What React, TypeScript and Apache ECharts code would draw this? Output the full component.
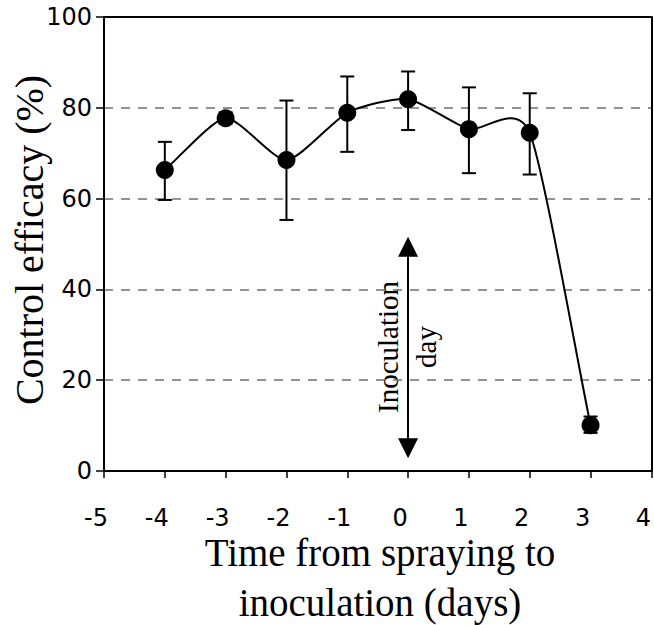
import React, { useEffect, useRef } from "react";
import * as echarts from "echarts";

// Days from spraying to inoculation
const days = [-4, -3, -2, -1, 0, 1, 2, 3];
// Control efficacy (%)
const efficacy = [66.3, 77.7, 68.5, 78.9, 81.9, 75.3, 74.5, 10.1];
const errLow = [59.7, 76.5, 55.3, 70.3, 75.1, 65.6, 65.3, 8.4];
const errHigh = [72.5, 79.0, 81.6, 86.9, 88.0, 84.5, 83.2, 12.0];

// Inoculation-day arrow (x = 0) end values
const arrowDay = 0;
const arrowTop = 49.4;
const arrowBottom = 5.0;

const xMin = -5;
const xMax = 4;
const yMin = 0;
const yMax = 100;

const yTitle = "Control efficacy (%)";
const xTitle1 = "Time from spraying to";
const xTitle2 = "inoculation (days)";
const annotation = "Inoculation\nday";

export default function App() {
  const ref = useRef<HTMLDivElement>(null);

  useEffect(() => {
    if (!ref.current) return;
    const chart = echarts.init(ref.current, null, { renderer: "svg" });
    const sans = "DejaVu Sans, Verdana, sans-serif";
    const serif = "Liberation Serif, Times New Roman, serif";

    const n = days.length;
    const errData = days.map((d, i) => [d, errLow[i], errHigh[i]]);
    const pointData = days.map((d, i) => [d, efficacy[i]]);
    const tension = 0.11;

    chart.setOption({
      animation: false,
      backgroundColor: "#ffffff",
      grid: { left: 104, right: 2, top: 17, bottom: 154, containLabel: false },
      xAxis: [
        {
          type: "value",
          min: xMin,
          max: xMax,
          interval: 1,
          axisLine: { show: true, onZero: false, lineStyle: { color: "#000", width: 2 } },
          axisTick: { show: true, inside: false, length: 7, lineStyle: { color: "#000", width: 1.5 } },
          axisLabel: {
            color: "#000",
            fontFamily: sans,
            fontSize: 24,
            margin: 35,
            padding: [0, 16, 0, 0],
          },
          splitLine: { show: false },
        },
        {
          type: "value",
          position: "top",
          min: xMin,
          max: xMax,
          interval: 1,
          axisLine: { show: true, onZero: false, lineStyle: { color: "#000", width: 2 } },
          axisTick: { show: false },
          axisLabel: { show: false },
          splitLine: { show: false },
        },
      ],
      yAxis: [
        {
          type: "value",
          min: yMin,
          max: yMax,
          interval: 20,
          axisLine: { show: true, onZero: false, lineStyle: { color: "#000", width: 2 } },
          axisTick: { show: true, inside: false, length: 8, lineStyle: { color: "#000", width: 1.5 } },
          axisLabel: {
            color: "#000",
            fontFamily: sans,
            fontSize: 24,
            margin: 12,
            padding: [4, 0, 0, 0],
          },
          splitLine: {
            show: true,
            lineStyle: { color: "#707070", width: 1.5, type: [9, 8] },
          },
        },
        {
          type: "value",
          position: "right",
          min: yMin,
          max: yMax,
          interval: 20,
          axisLine: { show: true, onZero: false, lineStyle: { color: "#000", width: 2 } },
          axisTick: { show: false },
          axisLabel: { show: false },
          splitLine: { show: false },
        },
      ],
      series: [
        {
          type: "custom",
          name: "error",
          xAxisIndex: 0,
          yAxisIndex: 0,
          silent: true,
          encode: { x: 0, y: [1, 2] },
          data: errData,
          z: 2,
          renderItem: (params: any, api: any) => {
            const x = api.value(0);
            const lo = api.coord([x, api.value(1)]);
            const hi = api.coord([x, api.value(2)]);
            const hw = 7;
            const st = { stroke: "#000", lineWidth: 2 };
            return {
              type: "group",
              children: [
                { type: "line", shape: { x1: lo[0], y1: lo[1], x2: hi[0], y2: hi[1] }, style: st },
                { type: "line", shape: { x1: lo[0] - hw, y1: lo[1], x2: lo[0] + hw, y2: lo[1] }, style: st },
                { type: "line", shape: { x1: hi[0] - hw, y1: hi[1], x2: hi[0] + hw, y2: hi[1] }, style: st },
              ],
            };
          },
        },
        {
          type: "custom",
          name: "curve",
          xAxisIndex: 0,
          yAxisIndex: 0,
          silent: true,
          encode: { x: 0, y: 1 },
          data: pointData,
          z: 2,
          renderItem: (params: any, api: any) => {
            const i = params.dataIndex;
            if (i >= n - 1) return { type: "group", children: [] };
            const pt = (j: number) => api.coord([days[j], efficacy[j]]);
            const a = pt(i);
            const b = pt(i + 1);
            const prev = i > 0 ? pt(i - 1) : [2 * a[0] - b[0], 2 * a[1] - b[1]];
            const next = i + 2 < n ? pt(i + 2) : [2 * b[0] - a[0], 2 * b[1] - a[1]];
            return {
              type: "bezierCurve",
              shape: {
                x1: a[0],
                y1: a[1],
                cpx1: a[0] + tension * (b[0] - prev[0]),
                cpy1: a[1] + tension * (b[1] - prev[1]),
                cpx2: b[0] - tension * (next[0] - a[0]),
                cpy2: b[1] - tension * (next[1] - a[1]),
                x2: b[0],
                y2: b[1],
              },
              style: { stroke: "#000", lineWidth: 2, fill: "none" },
            };
          },
        },
        {
          type: "scatter",
          name: "efficacy",
          xAxisIndex: 0,
          yAxisIndex: 0,
          data: pointData,
          symbol: "circle",
          symbolSize: 18,
          silent: true,
          z: 3,
          itemStyle: { color: "#000", opacity: 1 },
          markLine: {
            silent: true,
            animation: false,
            symbol: ["triangle", "triangle"],
            symbolSize: 20,
            label: { show: false },
            lineStyle: { color: "#000", width: 2, type: "solid", opacity: 1 },
            emphasis: { disabled: true },
            data: [[{ coord: [arrowDay, arrowTop] }, { coord: [arrowDay, arrowBottom] }]],
          },
        },
      ],
      graphic: [
        {
          type: "text",
          x: 29.5,
          y: 240,
          rotation: Math.PI / 2,
          style: {
            text: yTitle,
            font: `40px ${serif}`,
            fill: "#000",
            align: "center",
            verticalAlign: "middle",
          },
        },
        {
          type: "text",
          x: 380,
          y: 552,
          style: {
            text: xTitle1,
            font: `39px ${serif}`,
            fill: "#000",
            align: "center",
            verticalAlign: "middle",
          },
        },
        {
          type: "text",
          x: 380,
          y: 602,
          style: {
            text: xTitle2,
            font: `39px ${serif}`,
            fill: "#000",
            align: "center",
            verticalAlign: "middle",
          },
        },
        {
          type: "text",
          x: 407,
          y: 347,
          rotation: Math.PI / 2,
          style: {
            text: annotation,
            font: `29px ${serif}`,
            lineHeight: 38,
            fill: "#000",
            align: "center",
            verticalAlign: "middle",
          },
        },
      ],
    });

    return () => chart.dispose();
  }, []);

  return (
    <div
      ref={ref}
      style={{ position: "fixed", left: 0, top: 0, width: 654, height: 625, background: "#fff" }}
    />
  );
}
